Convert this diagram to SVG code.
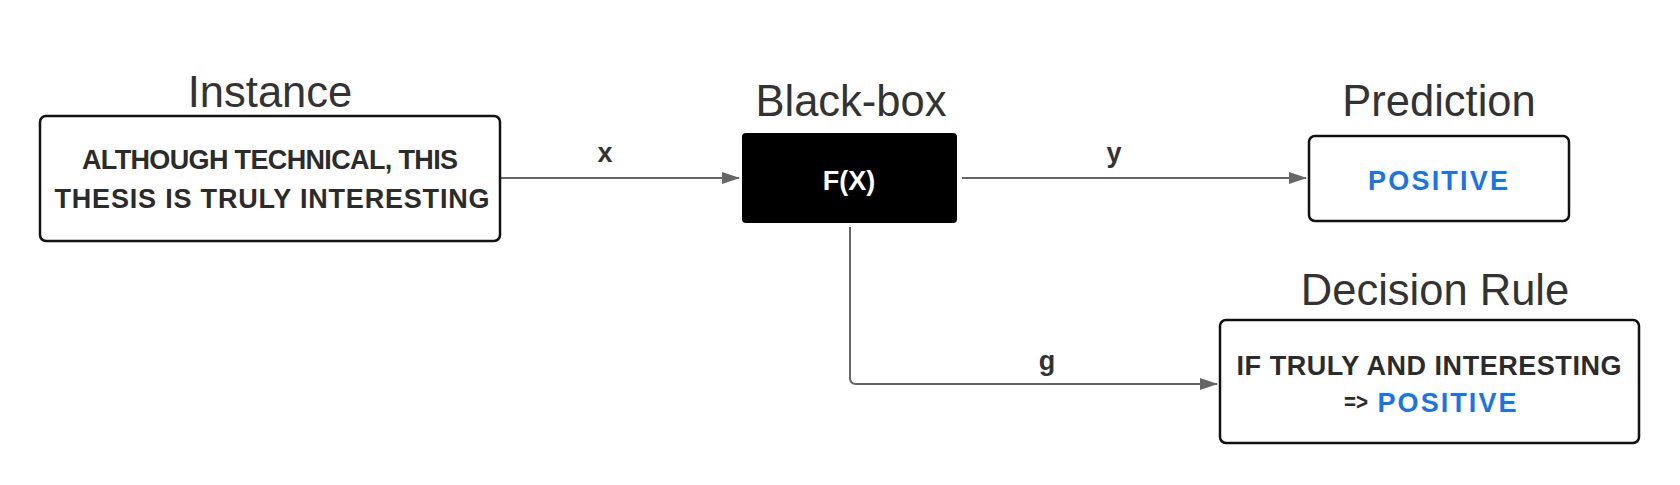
<svg xmlns="http://www.w3.org/2000/svg" width="1680" height="485" viewBox="0 0 1680 485">
<style>
.title{font-family:"Liberation Sans",Arial,sans-serif;font-size:43.5px;fill:#333;text-anchor:middle}
.box{fill:#fff;stroke:#111;stroke-width:2.5}
.txt{font-family:"Liberation Sans",Arial,sans-serif;font-weight:bold;font-size:27px;fill:#2b2b2b;text-anchor:middle}
.blue{fill:#1a73e8}
.lbl{font-family:"Liberation Sans",Arial,sans-serif;font-weight:bold;font-size:27px;fill:#333;text-anchor:middle}
.conn{fill:none;stroke:#666;stroke-width:2}
</style>
<defs>
<marker id="arr" markerWidth="18" markerHeight="12" refX="17" refY="6" orient="auto" markerUnits="userSpaceOnUse">
<path d="M0,0 L18,6 L0,12 Z" fill="#666"/>
</marker>
</defs>
<rect width="1680" height="485" fill="#fff"/>
<g id="connectors">
<path class="conn" d="M501,178 L739,178" marker-end="url(#arr)"/>
<text class="lbl" x="605" y="162">x</text>
<path class="conn" d="M962,178 L1306,178" marker-end="url(#arr)"/>
<text class="lbl" x="1114" y="162">y</text>
<path class="conn" d="M850,227 L850,378 Q850,384 856,384 L1217,384" marker-end="url(#arr)"/>
<text class="lbl" x="1047" y="370">g</text>
</g>
<g id="instance">
<text class="title" x="270" y="107">Instance</text>
<rect class="box" x="40" y="116" width="460" height="125" rx="6"/>
<text class="txt" x="270" y="169" textLength="376" lengthAdjust="spacing">ALTHOUGH TECHNICAL, THIS</text>
<text class="txt" x="272" y="208" textLength="435" lengthAdjust="spacing">THESIS IS TRULY INTERESTING</text>
</g>
<g id="blackbox">
<text class="title" x="851" y="115.5">Black-box</text>
<rect x="742" y="133" width="215" height="90" rx="4" fill="#000"/>
<text class="txt" x="849" y="190" style="fill:#fff">F(X)</text>
</g>
<g id="prediction">
<text class="title" x="1439" y="115.5">Prediction</text>
<rect class="box" x="1309" y="136" width="260" height="85" rx="6"/>
<text class="txt blue" x="1438" y="190" textLength="140" lengthAdjust="spacing">POSITIVE</text>
</g>
<g id="decision">
<text class="title" x="1435" y="304.5">Decision Rule</text>
<rect class="box" x="1220" y="320" width="419" height="123" rx="6"/>
<text class="txt" x="1429" y="375" textLength="385" lengthAdjust="spacing">IF TRULY AND INTERESTING</text>
<text class="txt" x="1356" y="410" style="font-size:24px" textLength="24" lengthAdjust="spacingAndGlyphs">=&gt;</text>
<text class="txt blue" x="1447" y="412" textLength="139" lengthAdjust="spacing">POSITIVE</text>
</g>
</svg>
